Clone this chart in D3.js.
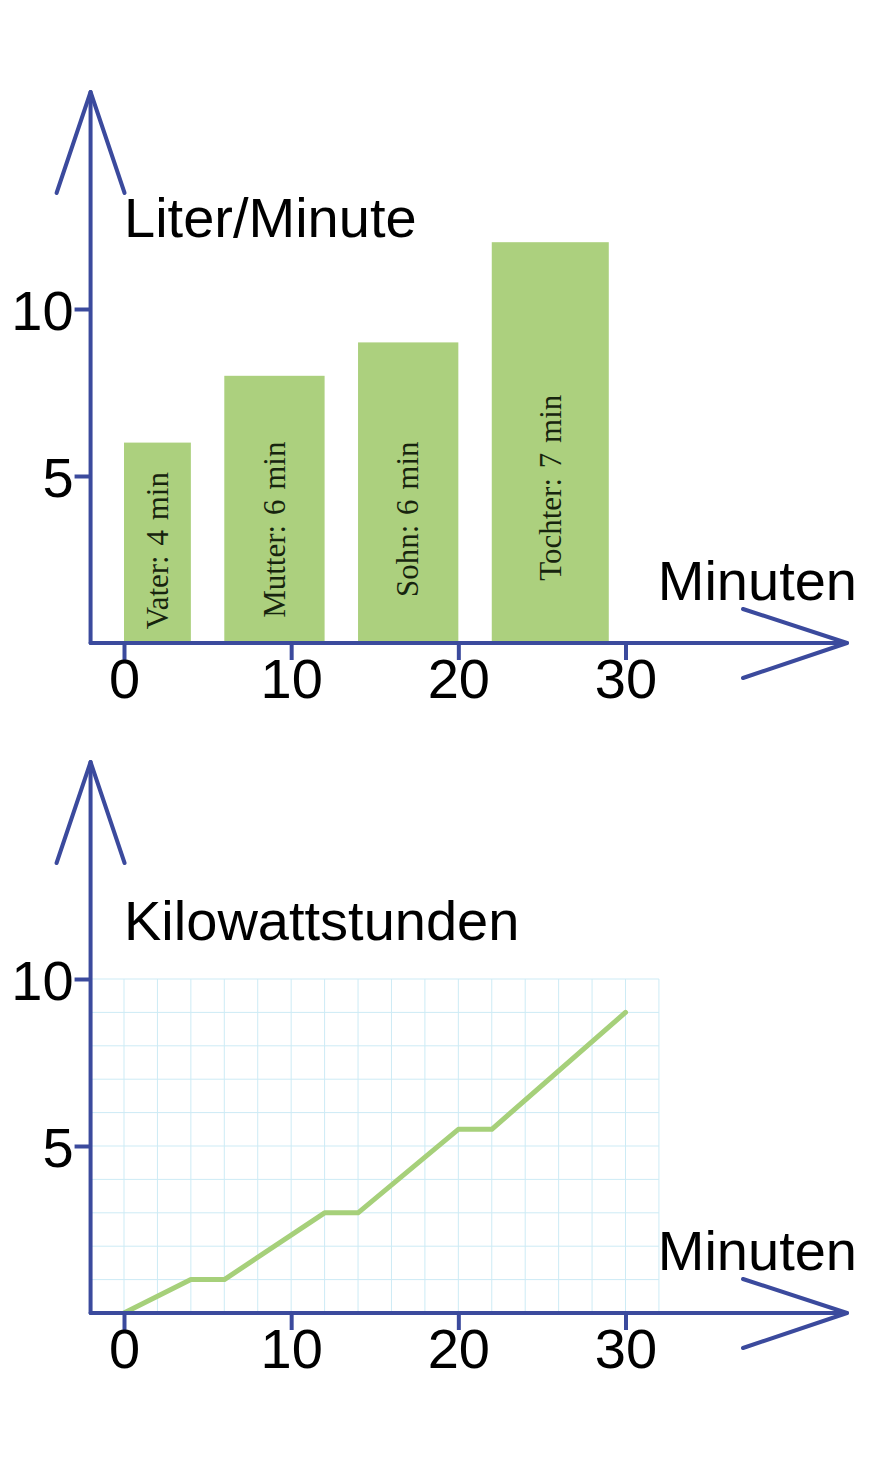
<!DOCTYPE html>
<html>
<head>
<meta charset="utf-8">
<script src="https://cdn.jsdelivr.net/npm/d3@7"></script>
<style>
  body { margin: 0; background: #fff; }
  text { font-family: "Liberation Sans", Arial, sans-serif; }
</style>
</head>
<body>
<div id="chart"></div>
<script>
// shower data: who, when they start, how long, flow rate
const people = ["Vater", "Mutter", "Sohn", "Tochter"];
const showerStart = [0, 6, 14, 22];
const showerMinutes = [4, 6, 6, 7];
const litersPerMinute = [6, 8, 9, 12];

// cumulative energy
const energyMinutes = [0, 4, 6, 12, 14, 20, 22, 30];
const energyKwh = [0, 1, 1, 3, 3, 5.5, 5.5, 9];

const xTicks = [0, 10, 20, 30];
const yTicks = [5, 10];

const width = 872, height = 1461;
const axisColor = "#3b4a9d";
const green = "#acd07e";

let svg = d3.select("#chart")
    .append("svg")
    .attr("width", width)
    .attr("height", height);

let x = d3.scaleLinear().domain([0, 30]).range([124, 625.5]);
let y = d3.scaleLinear().domain([0, 10]).range([334, 0]);

function drawPanel(top, yTitle, titleOffset) {
    let g = svg.append("g").attr("transform", `translate(0, ${top})`);
    g.append("g").attr("class", "marks");

    let x0 = x(-2), y0 = y(0);

    // axis lines with open arrow heads
    let arrows = g.append("g")
        .attr("fill", "none")
        .attr("stroke", axisColor)
        .attr("stroke-width", 4)
        .attr("stroke-linecap", "round")
        .attr("stroke-linejoin", "round");
    arrows.append("path").attr("d", `M${x0},${y0}V${y0 - 551}`);
    arrows.append("path").attr("d", `M${x0 - 34},${y0 - 450}L${x0},${y0 - 551}L${x0 + 34},${y0 - 450}`);
    arrows.append("path").attr("d", `M${x0},${y0}H847`);
    arrows.append("path").attr("d", `M743,${y0 - 34}L847,${y0}L743,${y0 + 35}`);

    let ya = g.append("g")
        .attr("transform", `translate(${x0}, 0)`)
        .call(d3.axisLeft(y).tickValues(yTicks).tickSize(16).tickPadding(1));
    let xa = g.append("g")
        .attr("transform", `translate(0, ${y0})`)
        .call(d3.axisBottom(x).tickValues(xTicks).tickSize(17).tickPadding(-2));

    [ya, xa].forEach(function(a) {
        a.select(".domain").remove();
        a.selectAll("line").attr("stroke", axisColor).attr("stroke-width", 4);
        a.selectAll("text")
            .attr("fill", "#000")
            .style("font-size", "56px")
            .style("font-family", "'Liberation Sans', Arial, sans-serif");
    });
    ya.selectAll("text").attr("dy", "0.36em");

    g.append("text")
        .attr("x", 124)
        .attr("y", y0 - titleOffset)
        .style("font-size", "56px")
        .text(yTitle);

    g.append("text")
        .attr("x", 857)
        .attr("y", y0 - 43)
        .style("text-anchor", "end")
        .style("font-size", "56px")
        .text("Minuten");

    return g;
}

// Panel 1: bars
let p1 = drawPanel(309, "Liter/Minute", 406);
let showers = people.map(function(p, i) {
    return { name: p, start: showerStart[i], dur: showerMinutes[i], rate: litersPerMinute[i] };
});

p1.select(".marks").selectAll("rect")
    .data(showers)
    .enter()
    .append("rect")
    .attr("fill", green)
    .attr("x", function(d) { return x(d.start); })
    .attr("y", function(d) { return y(d.rate); })
    .attr("width", function(d) { return x(d.start + d.dur) - x(d.start); })
    .attr("height", function(d) { return y(0) - y(d.rate); });

// labels sit in the lower part of each bar
p1.select(".marks").selectAll("text")
    .data(showers)
    .enter()
    .append("text")
    .attr("transform", function(d) {
        return `translate(${x(d.start + d.dur / 2)}, ${y(0.88 + d.rate * 0.314)}) rotate(-90)`;
    })
    .attr("dy", "0.33em")
    .style("text-anchor", "middle")
    .style("font-family", "'Liberation Serif', 'Times New Roman', serif")
    .style("font-size", "31px")
    .style("word-spacing", "2px")
    .attr("fill", "#17240e")
    .text(function(d) { return `${d.name}: ${d.dur} min`; });

// Panel 2: grid + energy line
let p2 = drawPanel(979, "Kilowattstunden", 373);
let grid = p2.select(".marks").append("g")
    .attr("stroke", "#cdebf5")
    .attr("stroke-width", 1);

grid.selectAll("line.v")
    .data(d3.range(-2, 33, 2))
    .enter()
    .append("line")
    .attr("x1", function(d) { return x(d); })
    .attr("x2", function(d) { return x(d); })
    .attr("y1", y(0))
    .attr("y2", y(10));

grid.selectAll("line.h")
    .data(d3.range(0, 11))
    .enter()
    .append("line")
    .attr("x1", x(-2))
    .attr("x2", x(32))
    .attr("y1", function(d) { return y(d); })
    .attr("y2", function(d) { return y(d); });

let energy = energyMinutes.map(function(m, i) { return { m: m, kwh: energyKwh[i] }; });

p2.select(".marks").append("path")
    .datum(energy)
    .attr("fill", "none")
    .attr("stroke", "#a6d07a")
    .attr("stroke-width", 5)
    .attr("stroke-linecap", "round")
    .attr("stroke-linejoin", "round")
    .attr("d", d3.line()
        .x(function(d) { return x(d.m); })
        .y(function(d) { return y(d.kwh); }));
</script>
</body>
</html>
